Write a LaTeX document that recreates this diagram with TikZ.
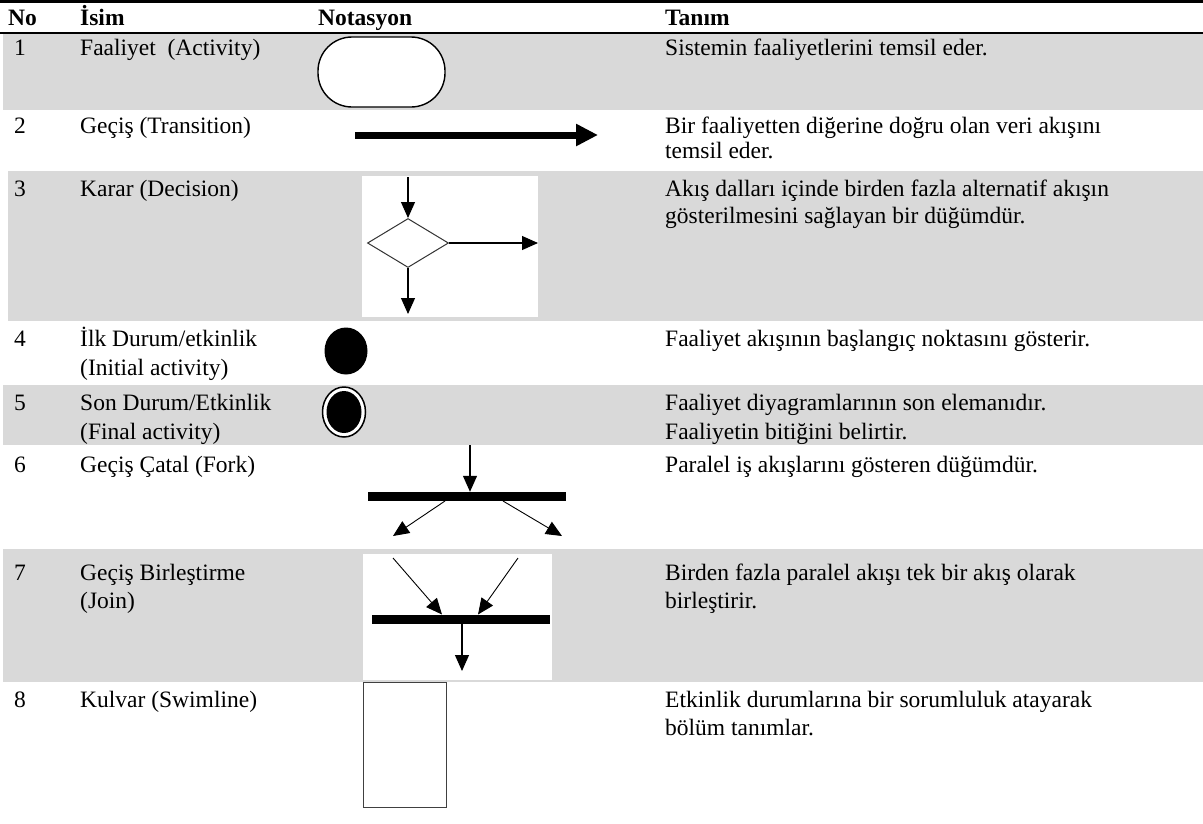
\documentclass[tikz,border=0pt]{standalone}
\usepackage{fontspec}
\setmainfont{Liberation Serif}
\usetikzlibrary{arrows.meta,shapes.geometric}
\definecolor{rowgray}{RGB}{217,217,217}
\begin{document}
\begin{tikzpicture}[x=1pt,y=-1pt,
  txt/.style={anchor=base west, inner sep=0pt, font=\fontsize{23.5}{27}\selectfont},
  head/.style={anchor=base west, inner sep=0pt, font=\fontsize{23.5}{27}\selectfont\bfseries},
  arr/.style={line width=1.1pt, -{Triangle[length=16pt,width=14pt]}},
  thinarr/.style={arr, line width=0.9pt},
  barnode/.style={fill=black, draw=none, inner sep=0pt, minimum height=9pt},
  thinframe/.style={draw=black!75, line width=0.9pt}
]
\useasboundingbox (0,0) rectangle (1203,823);
\fill[white] (0,0) rectangle (1203,823);

% shaded rows
\fill[rowgray] (3,34) rectangle (1203,110);
\fill[rowgray] (8,171) rectangle (1203,321);
\fill[rowgray] (3,385) rectangle (1203,445);
\fill[rowgray] (3,549) rectangle (1203,682);

% rules
\draw[line width=2.5pt] (0,1.5) -- (1203,1.5);
\draw[line width=2pt] (0,33) -- (1203,33);

% header
\node[head] (hno)  at (8,25)   {No};
\node[head] (hname) at (80,25) {İsim};
\node[head] (hnot) at (318,25) {Notasyon};
\node[head] (hdef) at (665,25) {Tanım};

% row 1: activity
\node[txt] (n1) at (14,55) {1};
\node[txt] (i1) at (80,55) {Faaliyet \ (Activity)};
\node[txt] (t1) at (665,55) {Sistemin faaliyetlerini temsil eder.};
\node[draw, line width=1.4pt, fill=white, rounded corners=34pt,
      minimum width=127pt, minimum height=70pt, inner sep=0pt] (act) at (381.5,72) {};

% row 2: transition
\node[txt] (n2) at (14,133) {2};
\node[txt] (i2) at (80,133) {Geçiş (Transition)};
\node[txt] (t2a) at (665,133) {Bir faaliyetten diğerine doğru olan veri akışını};
\node[txt] (t2b) at (665,158) {temsil eder.};
\coordinate (tr-a) at (355,135);
\coordinate (tr-b) at (598,135);
\draw[line width=7pt, -{Triangle[length=22pt,width=21pt]}] (tr-a) -- (tr-b);

% row 3: decision
\node[txt] (n3) at (14,196) {3};
\node[txt] (i3) at (80,196) {Karar (Decision)};
\node[txt] (t3a) at (665,196) {Akış dalları içinde birden fazla alternatif akışın};
\node[txt] (t3b) at (665,223) {gösterilmesini sağlayan bir düğümdür.};
\fill[white] (362,176) rectangle (538,317);
\node[diamond, draw=black!80, line width=1pt, minimum width=81pt, minimum height=49pt,
      inner sep=0pt] (dec) at (408,243) {};
\coordinate (dec-in) at (408,177);
\coordinate (dec-right) at (538,243);
\coordinate (dec-down) at (408,314);
\draw[arr] (dec-in) -- (dec.north);
\draw[arr] (dec.east) -- (dec-right);
\draw[arr] (dec.south) -- (dec-down);

% row 4: initial node
\node[txt] (n4) at (14,346) {4};
\node[txt] (i4a) at (80,346) {İlk Durum/etkinlik};
\node[txt] (i4b) at (80,375) {(Initial activity)};
\node[txt] (t4) at (665,346) {Faaliyet akışının başlangıç noktasını gösterir.};
\node[ellipse, fill=black, minimum width=43pt, minimum height=47pt, inner sep=0pt] (init) at (346,351) {};

% row 5: final node
\node[txt] (n5) at (14,410) {5};
\node[txt] (i5a) at (80,410) {Son Durum/Etkinlik};
\node[txt] (i5b) at (80,439) {(Final activity)};
\node[txt] (t5a) at (665,410) {Faaliyet diyagramlarının son elemanıdır.};
\node[txt] (t5b) at (665,439) {Faaliyetin bitiğini belirtir.};
\node[ellipse, draw=black, line width=1.5pt, fill=white, minimum width=43pt, minimum height=50pt, inner sep=0pt] (final) at (344,412) {};
\node[ellipse, fill=black, minimum width=35pt, minimum height=42pt, inner sep=0pt] (finalin) at (final.center) {};

% row 6: fork
\node[txt] (n6) at (14,472) {6};
\node[txt] (i6) at (80,472) {Geçiş Çatal (Fork)};
\node[txt] (t6) at (665,472) {Paralel iş akışlarını gösteren düğümdür.};
\node[barnode, minimum width=198pt] (fork) at (467,496.5) {};
\coordinate (fork-in) at (470,445);
\coordinate (fork-sl) at (445,501);
\coordinate (fork-sr) at (503,501);
\coordinate (fork-l) at (393,536);
\coordinate (fork-r) at (562,536);
\draw[arr] (fork-in) -- (fork-in |- fork.north);
\draw[thinarr] (fork-sl) -- (fork-l);
\draw[thinarr] (fork-sr) -- (fork-r);

% row 7: join
\node[txt] (n7) at (14,580) {7};
\node[txt] (i7a) at (80,580) {Geçiş Birleştirme};
\node[txt] (i7b) at (80,608) {(Join)};
\node[txt] (t7a) at (665,580) {Birden fazla paralel akışı tek bir akış olarak};
\node[txt] (t7b) at (665,608) {birleştirir.};
\fill[white] (363,554) rectangle (552,680);
\node[barnode, minimum width=178pt] (join) at (461,619) {};
\coordinate (join-l) at (393,558);
\coordinate (join-r) at (518,558);
\coordinate (join-tl) at (442,614.5);
\coordinate (join-tr) at (478,614.5);
\coordinate (join-out) at (462,671);
\draw[thinarr] (join-l) -- (join-tl);
\draw[thinarr] (join-r) -- (join-tr);
\draw[arr] (join-out |- join.south) -- (join-out);

% row 8: swimlane
\node[txt] (n8) at (14,707) {8};
\node[txt] (i8) at (80,707) {Kulvar (Swimline)};
\node[txt] (t8a) at (665,707) {Etkinlik durumlarına bir sorumluluk atayarak};
\node[txt] (t8b) at (665,735) {bölüm tanımlar.};
\node[thinframe, minimum width=83pt, minimum height=125pt, inner sep=0pt] (lane) at (404.5,744.5) {};
\end{tikzpicture}
\end{document}
